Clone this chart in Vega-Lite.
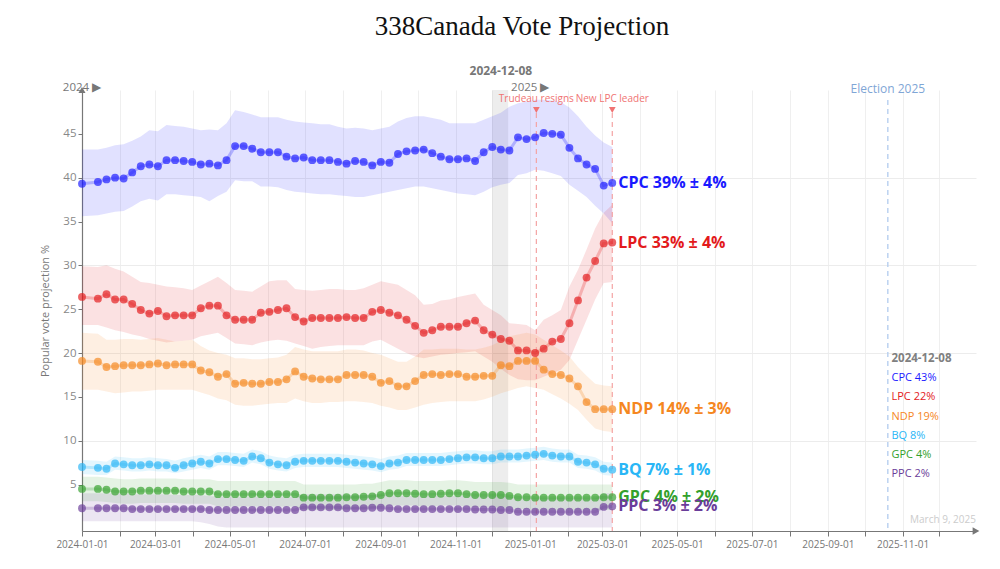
{
"$schema":"https://vega.github.io/schema/vega-lite/v6.json",
"width":894,"height":441,
"autosize":"none",
"padding":{"left":82,"top":90,"right":24,"bottom":38},
"background":"#ffffff",
"title":{"text":"338Canada Vote Projection","font":"Liberation Serif","fontSize":27,"fontWeight":"normal","color":"#111111","anchor":"middle","offset":24,"dx":-7},
"config":{"view":{"stroke":null},"font":"Open Sans"},
"datasets":{
"poll":[
{"d":"2024-01-01","p":"CPC","v":39.3,"lo":35.6,"hi":43.2},
{"d":"2024-01-14","p":"CPC","v":39.5,"lo":35.7,"hi":43.2},
{"d":"2024-01-21","p":"CPC","v":39.8,"lo":35.9,"hi":43.4},
{"d":"2024-01-28","p":"CPC","v":40.0,"lo":36.1,"hi":43.7},
{"d":"2024-02-04","p":"CPC","v":39.9,"lo":36.2,"hi":43.8},
{"d":"2024-02-11","p":"CPC","v":40.6,"lo":36.7,"hi":44.2},
{"d":"2024-02-18","p":"CPC","v":41.3,"lo":37.3,"hi":44.7},
{"d":"2024-02-25","p":"CPC","v":41.5,"lo":37.6,"hi":45.4},
{"d":"2024-03-03","p":"CPC","v":41.3,"lo":37.4,"hi":45.3},
{"d":"2024-03-10","p":"CPC","v":42.0,"lo":38.1,"hi":46.0},
{"d":"2024-03-17","p":"CPC","v":42.0,"lo":38.1,"hi":45.9},
{"d":"2024-03-24","p":"CPC","v":41.9,"lo":38.0,"hi":45.8},
{"d":"2024-03-31","p":"CPC","v":41.8,"lo":37.9,"hi":45.6},
{"d":"2024-04-07","p":"CPC","v":41.5,"lo":37.8,"hi":45.4},
{"d":"2024-04-14","p":"CPC","v":41.6,"lo":37.3,"hi":45.5},
{"d":"2024-04-21","p":"CPC","v":41.4,"lo":37.9,"hi":45.4},
{"d":"2024-04-28","p":"CPC","v":42.0,"lo":38.4,"hi":46.2},
{"d":"2024-05-05","p":"CPC","v":43.6,"lo":39.7,"hi":47.7},
{"d":"2024-05-12","p":"CPC","v":43.6,"lo":39.6,"hi":47.5},
{"d":"2024-05-19","p":"CPC","v":43.3,"lo":39.6,"hi":47.2},
{"d":"2024-05-26","p":"CPC","v":42.9,"lo":39.0,"hi":46.9},
{"d":"2024-06-02","p":"CPC","v":42.9,"lo":39.0,"hi":46.9},
{"d":"2024-06-09","p":"CPC","v":42.9,"lo":38.9,"hi":46.9},
{"d":"2024-06-16","p":"CPC","v":42.4,"lo":38.6,"hi":46.6},
{"d":"2024-06-23","p":"CPC","v":42.2,"lo":38.4,"hi":46.4},
{"d":"2024-06-30","p":"CPC","v":42.3,"lo":38.3,"hi":46.3},
{"d":"2024-07-07","p":"CPC","v":42.0,"lo":38.2,"hi":46.2},
{"d":"2024-07-14","p":"CPC","v":42.0,"lo":38.1,"hi":46.1},
{"d":"2024-07-21","p":"CPC","v":42.0,"lo":38.1,"hi":46.1},
{"d":"2024-07-28","p":"CPC","v":41.8,"lo":38.0,"hi":45.8},
{"d":"2024-08-04","p":"CPC","v":41.6,"lo":37.9,"hi":45.6},
{"d":"2024-08-11","p":"CPC","v":41.9,"lo":37.8,"hi":45.7},
{"d":"2024-08-18","p":"CPC","v":41.8,"lo":37.8,"hi":45.6},
{"d":"2024-08-25","p":"CPC","v":41.4,"lo":38.0,"hi":45.4},
{"d":"2024-09-01","p":"CPC","v":41.8,"lo":38.2,"hi":45.6},
{"d":"2024-09-08","p":"CPC","v":41.7,"lo":38.4,"hi":45.8},
{"d":"2024-09-15","p":"CPC","v":42.7,"lo":38.6,"hi":46.4},
{"d":"2024-09-22","p":"CPC","v":43.0,"lo":38.8,"hi":46.8},
{"d":"2024-09-29","p":"CPC","v":43.1,"lo":39.0,"hi":47.0},
{"d":"2024-10-06","p":"CPC","v":43.2,"lo":39.0,"hi":47.0},
{"d":"2024-10-13","p":"CPC","v":42.8,"lo":38.8,"hi":46.8},
{"d":"2024-10-20","p":"CPC","v":42.4,"lo":38.6,"hi":46.6},
{"d":"2024-10-27","p":"CPC","v":42.1,"lo":38.4,"hi":46.2},
{"d":"2024-11-03","p":"CPC","v":42.1,"lo":38.2,"hi":46.2},
{"d":"2024-11-10","p":"CPC","v":42.2,"lo":38.1,"hi":46.2},
{"d":"2024-11-17","p":"CPC","v":41.9,"lo":38.0,"hi":46.2},
{"d":"2024-11-24","p":"CPC","v":42.9,"lo":38.4,"hi":46.6},
{"d":"2024-12-01","p":"CPC","v":43.5,"lo":38.9,"hi":47.0},
{"d":"2024-12-08","p":"CPC","v":43.2,"lo":39.2,"hi":47.4},
{"d":"2024-12-15","p":"CPC","v":43.1,"lo":39.4,"hi":48.1},
{"d":"2024-12-22","p":"CPC","v":44.6,"lo":40.3,"hi":48.5},
{"d":"2024-12-29","p":"CPC","v":44.4,"lo":40.5,"hi":48.7},
{"d":"2025-01-05","p":"CPC","v":44.6,"lo":40.9,"hi":48.9},
{"d":"2025-01-12","p":"CPC","v":45.1,"lo":40.8,"hi":48.9},
{"d":"2025-01-19","p":"CPC","v":45.0,"lo":40.5,"hi":48.8},
{"d":"2025-01-26","p":"CPC","v":44.9,"lo":40.2,"hi":48.6},
{"d":"2025-02-02","p":"CPC","v":43.4,"lo":39.2,"hi":48.0},
{"d":"2025-02-09","p":"CPC","v":42.2,"lo":38.5,"hi":47.0},
{"d":"2025-02-16","p":"CPC","v":41.5,"lo":37.8,"hi":45.8},
{"d":"2025-02-23","p":"CPC","v":41.0,"lo":36.8,"hi":44.8},
{"d":"2025-03-02","p":"CPC","v":39.1,"lo":35.9,"hi":44.0},
{"d":"2025-03-09","p":"CPC","v":39.4,"lo":34.8,"hi":43.5},
{"d":"2024-01-01","p":"LPC","v":26.4,"lo":23.2,"hi":29.9},
{"d":"2024-01-14","p":"LPC","v":26.2,"lo":23.2,"hi":29.8},
{"d":"2024-01-21","p":"LPC","v":26.7,"lo":22.9,"hi":30.0},
{"d":"2024-01-28","p":"LPC","v":26.1,"lo":22.6,"hi":29.6},
{"d":"2024-02-04","p":"LPC","v":26.1,"lo":22.4,"hi":29.3},
{"d":"2024-02-11","p":"LPC","v":25.6,"lo":22.1,"hi":28.7},
{"d":"2024-02-18","p":"LPC","v":24.9,"lo":21.9,"hi":28.1},
{"d":"2024-02-25","p":"LPC","v":24.5,"lo":21.6,"hi":28.0},
{"d":"2024-03-03","p":"LPC","v":24.8,"lo":21.4,"hi":27.8},
{"d":"2024-03-10","p":"LPC","v":24.2,"lo":21.2,"hi":27.6},
{"d":"2024-03-17","p":"LPC","v":24.3,"lo":21.3,"hi":27.5},
{"d":"2024-03-24","p":"LPC","v":24.3,"lo":21.4,"hi":27.4},
{"d":"2024-03-31","p":"LPC","v":24.3,"lo":21.5,"hi":27.2},
{"d":"2024-04-07","p":"LPC","v":25.1,"lo":21.9,"hi":27.7},
{"d":"2024-04-14","p":"LPC","v":25.4,"lo":22.1,"hi":28.2},
{"d":"2024-04-21","p":"LPC","v":25.4,"lo":22.3,"hi":28.7},
{"d":"2024-04-28","p":"LPC","v":24.3,"lo":21.7,"hi":28.0},
{"d":"2024-05-05","p":"LPC","v":23.8,"lo":21.1,"hi":27.2},
{"d":"2024-05-12","p":"LPC","v":23.8,"lo":21.0,"hi":27.1},
{"d":"2024-05-19","p":"LPC","v":23.8,"lo":20.9,"hi":27.0},
{"d":"2024-05-26","p":"LPC","v":24.6,"lo":21.2,"hi":27.6},
{"d":"2024-06-02","p":"LPC","v":24.7,"lo":21.4,"hi":28.2},
{"d":"2024-06-09","p":"LPC","v":24.9,"lo":21.5,"hi":28.3},
{"d":"2024-06-16","p":"LPC","v":25.1,"lo":21.4,"hi":28.3},
{"d":"2024-06-23","p":"LPC","v":24.1,"lo":21.1,"hi":27.3},
{"d":"2024-06-30","p":"LPC","v":23.6,"lo":20.8,"hi":27.2},
{"d":"2024-07-07","p":"LPC","v":24.0,"lo":20.5,"hi":27.1},
{"d":"2024-07-14","p":"LPC","v":24.0,"lo":20.7,"hi":27.2},
{"d":"2024-07-21","p":"LPC","v":24.0,"lo":20.8,"hi":27.3},
{"d":"2024-07-28","p":"LPC","v":24.0,"lo":20.9,"hi":27.3},
{"d":"2024-08-04","p":"LPC","v":24.1,"lo":20.9,"hi":27.2},
{"d":"2024-08-11","p":"LPC","v":24.0,"lo":20.9,"hi":27.2},
{"d":"2024-08-18","p":"LPC","v":24.0,"lo":20.9,"hi":27.4},
{"d":"2024-08-25","p":"LPC","v":24.7,"lo":21.3,"hi":27.8},
{"d":"2024-09-01","p":"LPC","v":24.9,"lo":21.5,"hi":28.2},
{"d":"2024-09-08","p":"LPC","v":24.6,"lo":21.0,"hi":28.0},
{"d":"2024-09-15","p":"LPC","v":24.3,"lo":20.5,"hi":27.8},
{"d":"2024-09-22","p":"LPC","v":23.8,"lo":20.0,"hi":27.2},
{"d":"2024-09-29","p":"LPC","v":23.1,"lo":19.6,"hi":26.6},
{"d":"2024-10-06","p":"LPC","v":22.3,"lo":19.4,"hi":25.5},
{"d":"2024-10-13","p":"LPC","v":22.6,"lo":19.6,"hi":25.6},
{"d":"2024-10-20","p":"LPC","v":23.0,"lo":19.8,"hi":26.0},
{"d":"2024-10-27","p":"LPC","v":23.0,"lo":19.9,"hi":26.1},
{"d":"2024-11-03","p":"LPC","v":23.0,"lo":20.0,"hi":26.4},
{"d":"2024-11-10","p":"LPC","v":23.4,"lo":20.1,"hi":26.6},
{"d":"2024-11-17","p":"LPC","v":23.7,"lo":20.2,"hi":26.8},
{"d":"2024-11-24","p":"LPC","v":22.6,"lo":19.6,"hi":25.5},
{"d":"2024-12-01","p":"LPC","v":22.1,"lo":19.0,"hi":24.9},
{"d":"2024-12-08","p":"LPC","v":21.6,"lo":18.2,"hi":24.3},
{"d":"2024-12-15","p":"LPC","v":21.4,"lo":17.5,"hi":23.4},
{"d":"2024-12-22","p":"LPC","v":20.3,"lo":17.0,"hi":23.3},
{"d":"2024-12-29","p":"LPC","v":20.3,"lo":16.9,"hi":23.2},
{"d":"2025-01-05","p":"LPC","v":20.0,"lo":16.9,"hi":22.6},
{"d":"2025-01-12","p":"LPC","v":20.5,"lo":17.3,"hi":23.8},
{"d":"2025-01-19","p":"LPC","v":21.3,"lo":17.7,"hi":24.3},
{"d":"2025-01-26","p":"LPC","v":21.6,"lo":18.1,"hi":24.9},
{"d":"2025-02-02","p":"LPC","v":23.4,"lo":19.2,"hi":27.6},
{"d":"2025-02-09","p":"LPC","v":26.0,"lo":21.5,"hi":29.5},
{"d":"2025-02-16","p":"LPC","v":28.6,"lo":23.8,"hi":31.8},
{"d":"2025-02-23","p":"LPC","v":30.5,"lo":26.1,"hi":34.2},
{"d":"2025-03-02","p":"LPC","v":32.5,"lo":28.0,"hi":36.0},
{"d":"2025-03-09","p":"LPC","v":32.6,"lo":28.1,"hi":36.9},
{"d":"2024-01-01","p":"NDP","v":19.1,"lo":15.8,"hi":22.3},
{"d":"2024-01-14","p":"NDP","v":19.0,"lo":15.8,"hi":22.2},
{"d":"2024-01-21","p":"NDP","v":18.4,"lo":15.6,"hi":21.5},
{"d":"2024-01-28","p":"NDP","v":18.5,"lo":15.4,"hi":21.5},
{"d":"2024-02-04","p":"NDP","v":18.6,"lo":15.5,"hi":21.6},
{"d":"2024-02-11","p":"NDP","v":18.6,"lo":15.6,"hi":21.6},
{"d":"2024-02-18","p":"NDP","v":18.6,"lo":15.6,"hi":21.5},
{"d":"2024-02-25","p":"NDP","v":18.7,"lo":15.7,"hi":21.6},
{"d":"2024-03-03","p":"NDP","v":18.8,"lo":15.8,"hi":21.7},
{"d":"2024-03-10","p":"NDP","v":18.6,"lo":15.8,"hi":21.5},
{"d":"2024-03-17","p":"NDP","v":18.7,"lo":15.8,"hi":21.3},
{"d":"2024-03-24","p":"NDP","v":18.7,"lo":15.8,"hi":21.4},
{"d":"2024-03-31","p":"NDP","v":18.7,"lo":15.8,"hi":21.5},
{"d":"2024-04-07","p":"NDP","v":18.0,"lo":15.5,"hi":20.8},
{"d":"2024-04-14","p":"NDP","v":17.8,"lo":15.2,"hi":20.3},
{"d":"2024-04-21","p":"NDP","v":17.3,"lo":14.8,"hi":20.0},
{"d":"2024-04-28","p":"NDP","v":17.6,"lo":14.6,"hi":19.8},
{"d":"2024-05-05","p":"NDP","v":16.5,"lo":14.1,"hi":19.4},
{"d":"2024-05-12","p":"NDP","v":16.6,"lo":14.0,"hi":19.4},
{"d":"2024-05-19","p":"NDP","v":16.5,"lo":14.0,"hi":19.3},
{"d":"2024-05-26","p":"NDP","v":16.5,"lo":14.1,"hi":19.3},
{"d":"2024-06-02","p":"NDP","v":16.7,"lo":14.2,"hi":19.4},
{"d":"2024-06-09","p":"NDP","v":16.7,"lo":14.3,"hi":19.5},
{"d":"2024-06-16","p":"NDP","v":17.0,"lo":14.3,"hi":19.8},
{"d":"2024-06-23","p":"NDP","v":17.9,"lo":14.8,"hi":20.7},
{"d":"2024-06-30","p":"NDP","v":17.3,"lo":14.5,"hi":20.4},
{"d":"2024-07-07","p":"NDP","v":17.1,"lo":14.3,"hi":20.2},
{"d":"2024-07-14","p":"NDP","v":17.0,"lo":14.3,"hi":20.2},
{"d":"2024-07-21","p":"NDP","v":17.0,"lo":14.4,"hi":20.2},
{"d":"2024-07-28","p":"NDP","v":17.0,"lo":14.4,"hi":20.2},
{"d":"2024-08-04","p":"NDP","v":17.5,"lo":14.5,"hi":20.4},
{"d":"2024-08-11","p":"NDP","v":17.5,"lo":14.5,"hi":20.4},
{"d":"2024-08-18","p":"NDP","v":17.5,"lo":14.4,"hi":20.3},
{"d":"2024-08-25","p":"NDP","v":17.3,"lo":14.3,"hi":20.0},
{"d":"2024-09-01","p":"NDP","v":16.6,"lo":14.0,"hi":19.8},
{"d":"2024-09-08","p":"NDP","v":16.8,"lo":13.8,"hi":19.4},
{"d":"2024-09-15","p":"NDP","v":16.2,"lo":13.5,"hi":19.0},
{"d":"2024-09-22","p":"NDP","v":16.2,"lo":13.5,"hi":19.0},
{"d":"2024-09-29","p":"NDP","v":16.8,"lo":13.8,"hi":19.6},
{"d":"2024-10-06","p":"NDP","v":17.5,"lo":14.1,"hi":20.4},
{"d":"2024-10-13","p":"NDP","v":17.6,"lo":14.3,"hi":20.4},
{"d":"2024-10-20","p":"NDP","v":17.5,"lo":14.4,"hi":20.5},
{"d":"2024-10-27","p":"NDP","v":17.6,"lo":14.5,"hi":20.5},
{"d":"2024-11-03","p":"NDP","v":17.6,"lo":14.5,"hi":20.5},
{"d":"2024-11-10","p":"NDP","v":17.3,"lo":14.5,"hi":20.4},
{"d":"2024-11-17","p":"NDP","v":17.3,"lo":14.5,"hi":20.4},
{"d":"2024-11-24","p":"NDP","v":17.4,"lo":14.7,"hi":20.6},
{"d":"2024-12-01","p":"NDP","v":17.4,"lo":15.0,"hi":20.9},
{"d":"2024-12-08","p":"NDP","v":18.6,"lo":15.4,"hi":21.4},
{"d":"2024-12-15","p":"NDP","v":18.5,"lo":15.7,"hi":21.9},
{"d":"2024-12-22","p":"NDP","v":19.1,"lo":16.0,"hi":22.1},
{"d":"2024-12-29","p":"NDP","v":19.1,"lo":16.2,"hi":22.3},
{"d":"2025-01-05","p":"NDP","v":19.1,"lo":16.0,"hi":22.1},
{"d":"2025-01-12","p":"NDP","v":18.1,"lo":15.8,"hi":21.5},
{"d":"2025-01-19","p":"NDP","v":17.6,"lo":15.3,"hi":20.9},
{"d":"2025-01-26","p":"NDP","v":17.5,"lo":14.8,"hi":20.3},
{"d":"2025-02-02","p":"NDP","v":17.1,"lo":14.2,"hi":19.6},
{"d":"2025-02-09","p":"NDP","v":16.2,"lo":13.5,"hi":18.4},
{"d":"2025-02-16","p":"NDP","v":14.4,"lo":12.4,"hi":17.4},
{"d":"2025-02-23","p":"NDP","v":13.6,"lo":11.4,"hi":16.5},
{"d":"2025-03-02","p":"NDP","v":13.6,"lo":11.1,"hi":16.3},
{"d":"2025-03-09","p":"NDP","v":13.6,"lo":11.0,"hi":16.2},
{"d":"2024-01-01","p":"BQ","v":7.0,"lo":6.2,"hi":7.8},
{"d":"2024-01-14","p":"BQ","v":6.9,"lo":6.1,"hi":7.7},
{"d":"2024-01-21","p":"BQ","v":6.8,"lo":6.1,"hi":7.6},
{"d":"2024-01-28","p":"BQ","v":7.4,"lo":6.7,"hi":8.2},
{"d":"2024-02-04","p":"BQ","v":7.3,"lo":6.6,"hi":8.1},
{"d":"2024-02-11","p":"BQ","v":7.2,"lo":6.5,"hi":8.0},
{"d":"2024-02-18","p":"BQ","v":7.2,"lo":6.5,"hi":8.0},
{"d":"2024-02-25","p":"BQ","v":7.3,"lo":6.6,"hi":8.1},
{"d":"2024-03-03","p":"BQ","v":7.2,"lo":6.5,"hi":8.0},
{"d":"2024-03-10","p":"BQ","v":7.2,"lo":6.5,"hi":7.9},
{"d":"2024-03-17","p":"BQ","v":6.9,"lo":6.3,"hi":7.7},
{"d":"2024-03-24","p":"BQ","v":7.2,"lo":6.5,"hi":8.0},
{"d":"2024-03-31","p":"BQ","v":7.4,"lo":6.7,"hi":8.2},
{"d":"2024-04-07","p":"BQ","v":7.6,"lo":6.9,"hi":8.4},
{"d":"2024-04-14","p":"BQ","v":7.4,"lo":6.7,"hi":8.2},
{"d":"2024-04-21","p":"BQ","v":7.9,"lo":7.2,"hi":8.7},
{"d":"2024-04-28","p":"BQ","v":7.9,"lo":7.2,"hi":8.7},
{"d":"2024-05-05","p":"BQ","v":7.8,"lo":7.1,"hi":8.6},
{"d":"2024-05-12","p":"BQ","v":7.7,"lo":7.0,"hi":8.5},
{"d":"2024-05-19","p":"BQ","v":8.2,"lo":7.5,"hi":9.0},
{"d":"2024-05-26","p":"BQ","v":8.0,"lo":7.3,"hi":8.8},
{"d":"2024-06-02","p":"BQ","v":7.5,"lo":6.8,"hi":8.3},
{"d":"2024-06-09","p":"BQ","v":7.3,"lo":6.6,"hi":8.1},
{"d":"2024-06-16","p":"BQ","v":7.2,"lo":6.5,"hi":8.0},
{"d":"2024-06-23","p":"BQ","v":7.6,"lo":6.9,"hi":8.4},
{"d":"2024-06-30","p":"BQ","v":7.7,"lo":7.0,"hi":8.5},
{"d":"2024-07-07","p":"BQ","v":7.7,"lo":7.0,"hi":8.5},
{"d":"2024-07-14","p":"BQ","v":7.7,"lo":7.0,"hi":8.5},
{"d":"2024-07-21","p":"BQ","v":7.7,"lo":7.0,"hi":8.5},
{"d":"2024-07-28","p":"BQ","v":7.7,"lo":7.0,"hi":8.5},
{"d":"2024-08-04","p":"BQ","v":7.6,"lo":6.9,"hi":8.4},
{"d":"2024-08-11","p":"BQ","v":7.5,"lo":6.8,"hi":8.3},
{"d":"2024-08-18","p":"BQ","v":7.4,"lo":6.7,"hi":8.2},
{"d":"2024-08-25","p":"BQ","v":7.3,"lo":6.6,"hi":8.1},
{"d":"2024-09-01","p":"BQ","v":7.1,"lo":6.4,"hi":7.9},
{"d":"2024-09-08","p":"BQ","v":7.4,"lo":6.7,"hi":8.2},
{"d":"2024-09-15","p":"BQ","v":7.5,"lo":6.8,"hi":8.3},
{"d":"2024-09-22","p":"BQ","v":7.8,"lo":7.1,"hi":8.6},
{"d":"2024-09-29","p":"BQ","v":7.8,"lo":7.1,"hi":8.6},
{"d":"2024-10-06","p":"BQ","v":7.8,"lo":7.1,"hi":8.6},
{"d":"2024-10-13","p":"BQ","v":7.8,"lo":7.1,"hi":8.6},
{"d":"2024-10-20","p":"BQ","v":7.8,"lo":7.1,"hi":8.6},
{"d":"2024-10-27","p":"BQ","v":7.9,"lo":7.2,"hi":8.7},
{"d":"2024-11-03","p":"BQ","v":8.0,"lo":7.3,"hi":8.8},
{"d":"2024-11-10","p":"BQ","v":8.1,"lo":7.4,"hi":8.9},
{"d":"2024-11-17","p":"BQ","v":8.1,"lo":7.4,"hi":8.9},
{"d":"2024-11-24","p":"BQ","v":8.0,"lo":7.3,"hi":8.8},
{"d":"2024-12-01","p":"BQ","v":8.0,"lo":7.3,"hi":8.8},
{"d":"2024-12-08","p":"BQ","v":8.2,"lo":7.5,"hi":9.0},
{"d":"2024-12-15","p":"BQ","v":8.2,"lo":7.5,"hi":9.0},
{"d":"2024-12-22","p":"BQ","v":8.2,"lo":7.5,"hi":9.0},
{"d":"2024-12-29","p":"BQ","v":8.3,"lo":7.6,"hi":9.1},
{"d":"2025-01-05","p":"BQ","v":8.4,"lo":7.7,"hi":9.2},
{"d":"2025-01-12","p":"BQ","v":8.5,"lo":7.8,"hi":9.3},
{"d":"2025-01-19","p":"BQ","v":8.3,"lo":7.6,"hi":9.1},
{"d":"2025-01-26","p":"BQ","v":8.2,"lo":7.5,"hi":9.0},
{"d":"2025-02-02","p":"BQ","v":8.2,"lo":7.5,"hi":9.0},
{"d":"2025-02-09","p":"BQ","v":7.6,"lo":6.9,"hi":8.4},
{"d":"2025-02-16","p":"BQ","v":7.5,"lo":6.8,"hi":8.3},
{"d":"2025-02-23","p":"BQ","v":7.3,"lo":6.6,"hi":8.1},
{"d":"2025-03-02","p":"BQ","v":6.8,"lo":6.1,"hi":7.6},
{"d":"2025-03-09","p":"BQ","v":6.7,"lo":6.0,"hi":7.5},
{"d":"2024-01-01","p":"GPC","v":4.5,"lo":3.1,"hi":5.9},
{"d":"2024-01-14","p":"GPC","v":4.5,"lo":3.1,"hi":5.9},
{"d":"2024-01-21","p":"GPC","v":4.4,"lo":3.0,"hi":5.8},
{"d":"2024-01-28","p":"GPC","v":4.2,"lo":2.9,"hi":5.7},
{"d":"2024-02-04","p":"GPC","v":4.2,"lo":2.8,"hi":5.6},
{"d":"2024-02-11","p":"GPC","v":4.2,"lo":2.8,"hi":5.6},
{"d":"2024-02-18","p":"GPC","v":4.3,"lo":2.9,"hi":5.7},
{"d":"2024-02-25","p":"GPC","v":4.3,"lo":2.9,"hi":5.7},
{"d":"2024-03-03","p":"GPC","v":4.3,"lo":2.9,"hi":5.7},
{"d":"2024-03-10","p":"GPC","v":4.3,"lo":2.9,"hi":5.7},
{"d":"2024-03-17","p":"GPC","v":4.3,"lo":2.9,"hi":5.7},
{"d":"2024-03-24","p":"GPC","v":4.2,"lo":2.8,"hi":5.6},
{"d":"2024-03-31","p":"GPC","v":4.2,"lo":2.8,"hi":5.6},
{"d":"2024-04-07","p":"GPC","v":4.2,"lo":2.8,"hi":5.6},
{"d":"2024-04-14","p":"GPC","v":4.2,"lo":2.8,"hi":5.6},
{"d":"2024-04-21","p":"GPC","v":3.9,"lo":2.5,"hi":5.4},
{"d":"2024-04-28","p":"GPC","v":3.9,"lo":2.5,"hi":5.4},
{"d":"2024-05-05","p":"GPC","v":3.9,"lo":2.5,"hi":5.4},
{"d":"2024-05-12","p":"GPC","v":3.9,"lo":2.5,"hi":5.4},
{"d":"2024-05-19","p":"GPC","v":3.9,"lo":2.5,"hi":5.4},
{"d":"2024-05-26","p":"GPC","v":3.9,"lo":2.5,"hi":5.4},
{"d":"2024-06-02","p":"GPC","v":3.9,"lo":2.5,"hi":5.4},
{"d":"2024-06-09","p":"GPC","v":3.9,"lo":2.5,"hi":5.4},
{"d":"2024-06-16","p":"GPC","v":3.9,"lo":2.5,"hi":5.4},
{"d":"2024-06-23","p":"GPC","v":3.9,"lo":2.5,"hi":5.4},
{"d":"2024-06-30","p":"GPC","v":3.5,"lo":2.1,"hi":5.0},
{"d":"2024-07-07","p":"GPC","v":3.5,"lo":2.1,"hi":5.0},
{"d":"2024-07-14","p":"GPC","v":3.5,"lo":2.1,"hi":5.0},
{"d":"2024-07-21","p":"GPC","v":3.5,"lo":2.1,"hi":5.0},
{"d":"2024-07-28","p":"GPC","v":3.5,"lo":2.1,"hi":5.0},
{"d":"2024-08-04","p":"GPC","v":3.55,"lo":2.2,"hi":5.0},
{"d":"2024-08-11","p":"GPC","v":3.55,"lo":2.2,"hi":5.0},
{"d":"2024-08-18","p":"GPC","v":3.6,"lo":2.2,"hi":5.1},
{"d":"2024-08-25","p":"GPC","v":3.65,"lo":2.3,"hi":5.1},
{"d":"2024-09-01","p":"GPC","v":3.8,"lo":2.4,"hi":5.3},
{"d":"2024-09-08","p":"GPC","v":4.0,"lo":2.6,"hi":5.5},
{"d":"2024-09-15","p":"GPC","v":4.0,"lo":2.6,"hi":5.5},
{"d":"2024-09-22","p":"GPC","v":4.0,"lo":2.6,"hi":5.5},
{"d":"2024-09-29","p":"GPC","v":3.95,"lo":2.6,"hi":5.4},
{"d":"2024-10-06","p":"GPC","v":3.9,"lo":2.5,"hi":5.4},
{"d":"2024-10-13","p":"GPC","v":3.9,"lo":2.5,"hi":5.4},
{"d":"2024-10-20","p":"GPC","v":3.95,"lo":2.6,"hi":5.4},
{"d":"2024-10-27","p":"GPC","v":4.0,"lo":2.6,"hi":5.5},
{"d":"2024-11-03","p":"GPC","v":4.0,"lo":2.6,"hi":5.5},
{"d":"2024-11-10","p":"GPC","v":3.9,"lo":2.5,"hi":5.4},
{"d":"2024-11-17","p":"GPC","v":3.8,"lo":2.4,"hi":5.3},
{"d":"2024-11-24","p":"GPC","v":3.8,"lo":2.4,"hi":5.3},
{"d":"2024-12-01","p":"GPC","v":3.8,"lo":2.4,"hi":5.3},
{"d":"2024-12-08","p":"GPC","v":3.8,"lo":2.4,"hi":5.3},
{"d":"2024-12-15","p":"GPC","v":3.7,"lo":2.3,"hi":5.2},
{"d":"2024-12-22","p":"GPC","v":3.55,"lo":2.2,"hi":5.0},
{"d":"2024-12-29","p":"GPC","v":3.55,"lo":2.2,"hi":5.0},
{"d":"2025-01-05","p":"GPC","v":3.5,"lo":2.1,"hi":5.0},
{"d":"2025-01-12","p":"GPC","v":3.5,"lo":2.1,"hi":5.0},
{"d":"2025-01-19","p":"GPC","v":3.5,"lo":2.1,"hi":5.0},
{"d":"2025-01-26","p":"GPC","v":3.5,"lo":2.1,"hi":5.0},
{"d":"2025-02-02","p":"GPC","v":3.5,"lo":2.1,"hi":5.0},
{"d":"2025-02-09","p":"GPC","v":3.5,"lo":2.1,"hi":5.0},
{"d":"2025-02-16","p":"GPC","v":3.5,"lo":2.1,"hi":5.0},
{"d":"2025-02-23","p":"GPC","v":3.5,"lo":2.1,"hi":5.0},
{"d":"2025-03-02","p":"GPC","v":3.55,"lo":2.1,"hi":5.0},
{"d":"2025-03-09","p":"GPC","v":3.55,"lo":2.1,"hi":5.0},
{"d":"2024-01-01","p":"PPC","v":2.3,"lo":0.8,"hi":4.0},
{"d":"2024-01-14","p":"PPC","v":2.3,"lo":0.8,"hi":4.0},
{"d":"2024-01-21","p":"PPC","v":2.3,"lo":0.8,"hi":4.0},
{"d":"2024-01-28","p":"PPC","v":2.3,"lo":0.8,"hi":4.0},
{"d":"2024-02-04","p":"PPC","v":2.3,"lo":0.8,"hi":4.0},
{"d":"2024-02-11","p":"PPC","v":2.2,"lo":0.8,"hi":3.9},
{"d":"2024-02-18","p":"PPC","v":2.2,"lo":0.8,"hi":3.9},
{"d":"2024-02-25","p":"PPC","v":2.2,"lo":0.8,"hi":3.9},
{"d":"2024-03-03","p":"PPC","v":2.2,"lo":0.8,"hi":3.9},
{"d":"2024-03-10","p":"PPC","v":2.2,"lo":0.8,"hi":3.9},
{"d":"2024-03-17","p":"PPC","v":2.2,"lo":0.8,"hi":3.8},
{"d":"2024-03-24","p":"PPC","v":2.2,"lo":0.8,"hi":3.8},
{"d":"2024-03-31","p":"PPC","v":2.2,"lo":0.8,"hi":3.8},
{"d":"2024-04-07","p":"PPC","v":2.2,"lo":0.7,"hi":3.8},
{"d":"2024-04-14","p":"PPC","v":2.1,"lo":0.5,"hi":3.7},
{"d":"2024-04-21","p":"PPC","v":2.1,"lo":0.2,"hi":3.6},
{"d":"2024-04-28","p":"PPC","v":2.1,"lo":0.1,"hi":3.6},
{"d":"2024-05-05","p":"PPC","v":2.1,"lo":0.1,"hi":3.6},
{"d":"2024-05-12","p":"PPC","v":2.1,"lo":0.1,"hi":3.6},
{"d":"2024-05-19","p":"PPC","v":2.1,"lo":0.1,"hi":3.6},
{"d":"2024-05-26","p":"PPC","v":2.1,"lo":0.1,"hi":3.6},
{"d":"2024-06-02","p":"PPC","v":2.1,"lo":0.1,"hi":3.6},
{"d":"2024-06-09","p":"PPC","v":2.1,"lo":0.1,"hi":3.6},
{"d":"2024-06-16","p":"PPC","v":2.1,"lo":0.1,"hi":3.6},
{"d":"2024-06-23","p":"PPC","v":2.1,"lo":0.1,"hi":3.6},
{"d":"2024-06-30","p":"PPC","v":2.4,"lo":0.1,"hi":3.9},
{"d":"2024-07-07","p":"PPC","v":2.4,"lo":0.1,"hi":3.9},
{"d":"2024-07-14","p":"PPC","v":2.4,"lo":0.1,"hi":3.9},
{"d":"2024-07-21","p":"PPC","v":2.4,"lo":0.1,"hi":3.9},
{"d":"2024-07-28","p":"PPC","v":2.4,"lo":0.1,"hi":3.9},
{"d":"2024-08-04","p":"PPC","v":2.3,"lo":0.1,"hi":3.8},
{"d":"2024-08-11","p":"PPC","v":2.3,"lo":0.1,"hi":3.8},
{"d":"2024-08-18","p":"PPC","v":2.3,"lo":0.1,"hi":3.8},
{"d":"2024-08-25","p":"PPC","v":2.35,"lo":0.1,"hi":3.85},
{"d":"2024-09-01","p":"PPC","v":2.35,"lo":0.1,"hi":3.85},
{"d":"2024-09-08","p":"PPC","v":2.3,"lo":0.1,"hi":3.8},
{"d":"2024-09-15","p":"PPC","v":2.2,"lo":0.1,"hi":3.7},
{"d":"2024-09-22","p":"PPC","v":2.2,"lo":0.1,"hi":3.7},
{"d":"2024-09-29","p":"PPC","v":2.2,"lo":0.1,"hi":3.7},
{"d":"2024-10-06","p":"PPC","v":2.2,"lo":0.1,"hi":3.7},
{"d":"2024-10-13","p":"PPC","v":2.2,"lo":0.1,"hi":3.7},
{"d":"2024-10-20","p":"PPC","v":2.2,"lo":0.1,"hi":3.7},
{"d":"2024-10-27","p":"PPC","v":2.2,"lo":0.1,"hi":3.7},
{"d":"2024-11-03","p":"PPC","v":2.2,"lo":0.1,"hi":3.7},
{"d":"2024-11-10","p":"PPC","v":2.2,"lo":0.1,"hi":3.7},
{"d":"2024-11-17","p":"PPC","v":2.15,"lo":0.1,"hi":3.65},
{"d":"2024-11-24","p":"PPC","v":2.15,"lo":0.1,"hi":3.65},
{"d":"2024-12-01","p":"PPC","v":2.15,"lo":0.1,"hi":3.65},
{"d":"2024-12-08","p":"PPC","v":2.1,"lo":0.1,"hi":3.6},
{"d":"2024-12-15","p":"PPC","v":2.1,"lo":0.1,"hi":3.6},
{"d":"2024-12-22","p":"PPC","v":1.9,"lo":0.1,"hi":3.4},
{"d":"2024-12-29","p":"PPC","v":1.9,"lo":0.1,"hi":3.4},
{"d":"2025-01-05","p":"PPC","v":1.9,"lo":0.1,"hi":3.4},
{"d":"2025-01-12","p":"PPC","v":1.9,"lo":0.1,"hi":3.4},
{"d":"2025-01-19","p":"PPC","v":1.9,"lo":0.1,"hi":3.4},
{"d":"2025-01-26","p":"PPC","v":1.9,"lo":0.1,"hi":3.4},
{"d":"2025-02-02","p":"PPC","v":1.9,"lo":0.1,"hi":3.4},
{"d":"2025-02-09","p":"PPC","v":1.9,"lo":0.1,"hi":3.4},
{"d":"2025-02-16","p":"PPC","v":1.9,"lo":0.1,"hi":3.4},
{"d":"2025-02-23","p":"PPC","v":1.9,"lo":0.1,"hi":3.4},
{"d":"2025-03-02","p":"PPC","v":2.45,"lo":0.1,"hi":4.0},
{"d":"2025-03-09","p":"PPC","v":2.5,"lo":0.1,"hi":4.0}
],
"ends":[
{"d":"2025-03-09","p":"CPC","v":39.4,"t":"CPC 39% ± 4%"},
{"d":"2025-03-09","p":"LPC","v":32.6,"t":"LPC 33% ± 4%"},
{"d":"2025-03-09","p":"NDP","v":13.6,"t":"NDP 14% ± 3%"},
{"d":"2025-03-09","p":"BQ","v":6.7,"t":"BQ 7% ± 1%"},
{"d":"2025-03-09","p":"GPC","v":3.55,"t":"GPC 4% ± 2%"},
{"d":"2025-03-09","p":"PPC","v":2.5,"t":"PPC 3% ± 2%"}
],
"hover":[
{"k":1,"p":"CPC","t":"CPC 43%"},
{"k":2,"p":"LPC","t":"LPC 22%"},
{"k":3,"p":"NDP","t":"NDP 19%"},
{"k":4,"p":"BQ","t":"BQ 8%"},
{"k":5,"p":"GPC","t":"GPC 4%"},
{"k":6,"p":"PPC","t":"PPC 2%"}
]
},
"layer":[
{"data":{"values":[{"s":"2024-12-01","e":"2024-12-14"}]},
 "mark":{"type":"rect","color":"#000000","opacity":0.07},
 "encoding":{
  "x":{"field":"s","type":"temporal",
   "scale":{"type":"utc","domain":[{"year":2024,"month":1,"date":1,"utc":true},{"year":2025,"month":12,"date":31,"utc":true}]},
   "axis":{"title":null,"tickCount":{"interval":"month","step":1},
    "labelExpr":"utcmonth(datum.value) % 2 == 0 ? utcFormat(datum.value, '%Y-%m-%d') : ''",
    "grid":true,"gridColor":"#efefef","domainColor":"#777777","domainWidth":1.2,"tickColor":"#777777","tickSize":5,
    "labelColor":"#777777","labelFontSize":10,"labelPadding":3,"labelOverlap":false,"labelFlush":false,"labelBound":false}},
  "x2":{"field":"e"},
  "y":{"datum":50,"type":"quantitative",
   "scale":{"domain":[-0.3,50],"nice":false,"zero":false},
   "axis":{"title":"Popular vote projection %","values":[5,10,15,20,25,30,35,40,45],
    "grid":true,"gridColor":{"condition":{"test":"datum.value % 10 == 0","value":"#ececec"},"value":"rgba(0,0,0,0)"},
    "domainColor":"#777777","domainWidth":1.2,"tickColor":"#777777","tickSize":4,"labelColor":"#888888","labelFontSize":11.5,
    "titleColor":"#777777","titleFontSize":11,"titleFontWeight":"normal","titlePadding":12}},
  "y2":{"datum":-0.3}}},
{"data":{"name":"poll"},
 "mark":{"type":"area","opacity":0.13},
 "encoding":{
  "x":{"field":"d","type":"temporal"},
  "y":{"field":"lo","type":"quantitative","stack":null},
  "y2":{"field":"hi"},
  "color":{"field":"p","type":"nominal","legend":null,
   "scale":{"domain":["CPC","LPC","NDP","BQ","GPC","PPC"],"range":["#1a1aff","#e31a1c","#f5871f","#29b6f6","#33a02c","#6a3d9a"]}}}},
{"data":{"values":[{"d":"2025-01-06"},{"d":"2025-03-09"}]},
 "mark":{"type":"rule","color":"#f4a3a3","strokeDash":[5,4],"strokeWidth":1.2},
 "encoding":{"x":{"field":"d","type":"temporal"},"y":{"value":23},"y2":{"value":441}}},
{"data":{"values":[{"d":"2025-10-20"}]},
 "mark":{"type":"rule","color":"#b7cff0","strokeDash":[5,4],"strokeWidth":1.4},
 "encoding":{"x":{"field":"d","type":"temporal"},"y":{"value":10},"y2":{"value":441}}},
{"data":{"name":"poll"},
 "mark":{"type":"line","strokeWidth":3,"opacity":0.25},
 "encoding":{
  "x":{"field":"d","type":"temporal"},
  "y":{"field":"v","type":"quantitative"},
  "color":{"field":"p","type":"nominal","legend":null}}},
{"data":{"name":"poll"},
 "transform":[{"filter":"datum.d != '2024-01-01'"}],
 "mark":{"type":"circle","size":62,"opacity":0.68},
 "encoding":{
  "x":{"field":"d","type":"temporal"},
  "y":{"field":"v","type":"quantitative"},
  "color":{"field":"p","type":"nominal","legend":null}}},
{"data":{"name":"ends"},
 "mark":{"type":"text","align":"left","baseline":"middle","dx":6,"fontSize":16,"fontWeight":"bold","font":"Open Sans"},
 "encoding":{
  "x":{"field":"d","type":"temporal"},
  "y":{"field":"v","type":"quantitative"},
  "text":{"field":"t"},
  "color":{"field":"p","type":"nominal","legend":null}}},
{"data":{"values":[{"d":"2025-01-06","t":"Trudeau resigns"},{"d":"2025-03-09","t":"New LPC leader"}]},
 "layer":[
  {"mark":{"type":"text","fontSize":10,"color":"#f07373","baseline":"middle","align":"center"},
   "encoding":{"x":{"field":"d","type":"temporal"},"y":{"value":9},"text":{"field":"t"}}},
  {"mark":{"type":"point","shape":"triangle-down","filled":true,"size":45,"color":"#f07373","opacity":1},
   "encoding":{"x":{"field":"d","type":"temporal"},"y":{"value":20}}}
 ]},
{"data":{"values":[{"d":"2025-10-20","t":"Election 2025"}]},
 "mark":{"type":"text","fontSize":12,"color":"#7fa6d6","baseline":"middle","align":"center"},
 "encoding":{"x":{"field":"d","type":"temporal"},"y":{"value":-1},"text":{"field":"t"}}},
{"data":{"values":[{"d":"2024-01-01","t":"2024 ▶"},{"d":"2025-01-01","t":"2025 ▶"}]},
 "mark":{"type":"text","fontSize":11.5,"color":"#777777","baseline":"middle","align":"center"},
 "encoding":{"x":{"field":"d","type":"temporal"},"y":{"value":-2},"text":{"field":"t"}}},
{"data":{"values":[{"d":"2024-12-08","t":"2024-12-08"}]},
 "mark":{"type":"text","fontSize":12,"fontWeight":"bold","color":"#777777","baseline":"middle","align":"center"},
 "encoding":{"x":{"field":"d","type":"temporal"},"y":{"value":-19},"text":{"field":"t"}}},
{"data":{"values":[{"d":"2025-12-31","t":"March 9, 2025"}]},
 "mark":{"type":"text","fontSize":10,"color":"#cccccc","baseline":"middle","align":"right"},
 "encoding":{"x":{"field":"d","type":"temporal"},"y":{"value":430},"text":{"field":"t"}}},
{"data":{"values":[{"d":"2024-01-01","v":50}]},
 "mark":{"type":"point","shape":"triangle-up","filled":true,"size":50,"color":"#777777","opacity":1},
 "encoding":{"x":{"field":"d","type":"temporal"},"y":{"field":"v","type":"quantitative"}}},
{"data":{"values":[{"d":"2025-12-31","v":-0.3}]},
 "mark":{"type":"point","shape":"triangle-right","filled":true,"size":60,"color":"#777777","opacity":1},
 "encoding":{"x":{"field":"d","type":"temporal"},"y":{"field":"v","type":"quantitative"}}},
{"data":{"values":[{"d":"2025-10-23","t":"2024-12-08"}]},
 "mark":{"type":"text","align":"left","baseline":"middle","fontSize":11.5,"fontWeight":"bold","color":"#808080"},
 "encoding":{"x":{"field":"d","type":"temporal"},"y":{"value":269},"text":{"field":"t"}}},
{"data":{"name":"hover"},
 "mark":{"type":"text","align":"left","baseline":"middle","fontSize":11},
 "encoding":{
  "x":{"datum":{"year":2025,"month":10,"date":23,"utc":true},"type":"temporal"},
  "y":{"value":269},
  "yOffset":{"field":"k","type":"quantitative","scale":{"domain":[0,6],"range":[0,115]}},
  "text":{"field":"t"},
  "color":{"field":"p","type":"nominal","legend":null}}}
]
}
